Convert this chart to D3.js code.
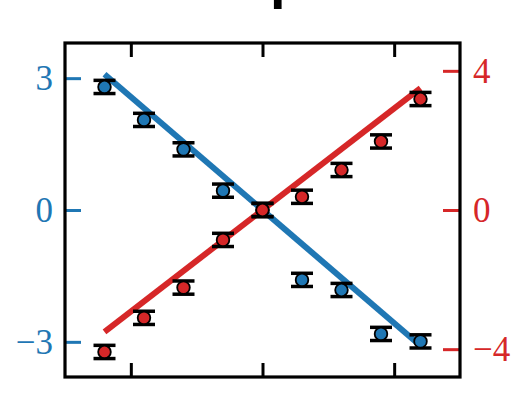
<!DOCTYPE html>
<html>
<head>
<meta charset="utf-8">
<script src="https://cdn.jsdelivr.net/npm/d3@7"></script>
<style>
  html, body { margin: 0; padding: 0; background: #fff; }
  svg { display: block; }
</style>
</head>
<body>
<svg id="chart" width="520" height="414"></svg>
<script>
// ---- data ----
const xValues = [-1.2, -0.9, -0.6, -0.3, 0, 0.3, 0.6, 0.9, 1.2];
const blueValues = [2.80, 2.05, 1.38, 0.44, 0, -1.59, -1.82, -2.82, -2.99];
const blueErrors = [0.15, 0.15, 0.15, 0.15, 0.15, 0.15, 0.15, 0.15, 0.15];
const redValues = [-4.08, -3.10, -2.23, -0.86, 0, 0.38, 1.15, 1.97, 3.19];
const redErrors = [0.19, 0.19, 0.19, 0.19, 0.19, 0.19, 0.19, 0.19, 0.19];
const blueFitX = [-1.2, 1.2];
const blueFitY = [3.09, -3.09];
const redFitX = [-1.2, 1.2];
const redFitY = [-3.5, 3.5];
const xTicks = [-1, 0, 1];
const leftTicks = [-3, 0, 3];
const rightTicks = [-4, 0, 4];

const BLUE = "#1f77b4";
const RED = "#d62728";

const svg = d3.select("#chart");
const L = 65, R = 460, T = 43, B = 377;

const x = d3.scaleLinear().domain([-1.5, 1.5]).range([L, R]);
const yL = d3.scaleLinear().domain([-3.8, 3.8]).range([B, T]);
const yR = d3.scaleLinear().domain([-4.8, 4.8]).range([B, T]);

// cropped title fragment (title lies above the visible area)
svg.append("text")
  .attr("x", 270).attr("y", -3)
  .attr("font-family", "Liberation Sans, Arial, sans-serif")
  .attr("font-weight", "bold")
  .attr("font-size", 56)
  .attr("fill", "#000")
  .text("p");

// fit lines
const line = d3.line();
function drawFit(xs, ys, scale, color) {
  svg.append("path")
    .attr("d", line(xs.map((v, i) => [x(v), scale(ys[i])])))
    .attr("stroke", color)
    .attr("stroke-width", 6)
    .attr("fill", "none");
}
drawFit(blueFitX, blueFitY, yL, BLUE);
drawFit(redFitX, redFitY, yR, RED);

// error bars + points
function drawSeries(vals, errs, scale, color) {
  const g = svg.append("g");
  const capW = 11;
  vals.forEach((v, i) => {
    const cx = x(xValues[i]);
    const y1 = scale(v - errs[i]), y2 = scale(v + errs[i]);
    g.append("line").attr("x1", cx).attr("x2", cx).attr("y1", y1).attr("y2", y2)
      .attr("stroke", "#000").attr("stroke-width", 3);
    [y1, y2].forEach(yy => {
      g.append("line").attr("x1", cx - capW).attr("x2", cx + capW)
        .attr("y1", yy).attr("y2", yy)
        .attr("stroke", "#000").attr("stroke-width", 3.5);
    });
  });
  g.selectAll("circle").data(vals).join("circle")
    .attr("cx", (d, i) => x(xValues[i]))
    .attr("cy", d => scale(d))
    .attr("r", 6.3)
    .attr("fill", color)
    .attr("stroke", "#000")
    .attr("stroke-width", 1.8);
}
drawSeries(blueValues, blueErrors, yL, BLUE);
drawSeries(redValues, redErrors, yR, RED);

// axes
const fontFam = "Liberation Serif, Times New Roman, serif";
function styleAxis(g, color) {
  g.select(".domain").remove();
  g.selectAll(".tick line").attr("stroke", color).attr("stroke-width", 3);
  g.selectAll(".tick text").attr("fill", color)
    .attr("font-family", fontFam).attr("font-size", 35);
}
const gL = svg.append("g").attr("transform", `translate(${L},0)`)
  .call(d3.axisLeft(yL).tickValues(leftTicks).tickSize(-16).tickPadding(12).tickFormat(d3.format("d")));
styleAxis(gL, BLUE);
const gR = svg.append("g").attr("transform", `translate(${R},0)`)
  .call(d3.axisRight(yR).tickValues(rightTicks).tickSize(-17).tickPadding(13).tickFormat(d3.format("d")));
styleAxis(gR, RED);
const gT = svg.append("g").attr("transform", `translate(0,${T})`)
  .call(d3.axisTop(x).tickValues(xTicks).tickSize(-14).tickFormat(""));
styleAxis(gT, "#000");
const gB = svg.append("g").attr("transform", `translate(0,${B})`)
  .call(d3.axisBottom(x).tickValues(xTicks).tickSize(-14).tickFormat(""));
styleAxis(gB, "#000");

// frame
svg.append("rect")
  .attr("x", L).attr("y", T).attr("width", R - L).attr("height", B - T)
  .attr("fill", "none").attr("stroke", "#000").attr("stroke-width", 3.2);
</script>
</body>
</html>
